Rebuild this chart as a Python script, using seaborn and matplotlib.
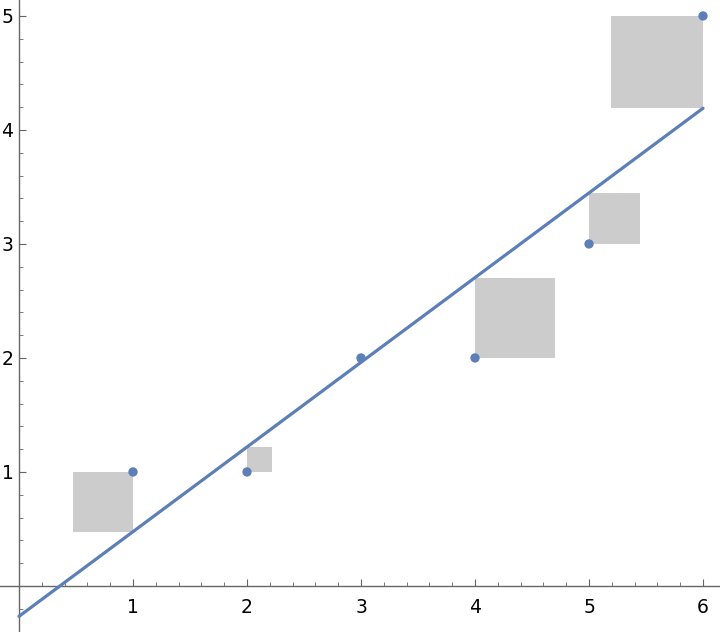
import numpy as np
import pandas as pd
import matplotlib
matplotlib.use("Agg")
import matplotlib.pyplot as plt
import seaborn as sns
from matplotlib.patches import Rectangle
from matplotlib.ticker import MultipleLocator

# data points
x_vals = [1, 2, 3, 4, 5, 6]
y_vals = [1, 1, 2, 2, 3, 5]
x_ticks = [1, 2, 3, 4, 5, 6]
y_ticks = [1, 2, 3, 4, 5]

BLUE = "#5b7fb6"
GRAY = "#cccccc"
AXIS = "#666666"

sns.set_style("white")
plt.rcParams['font.family'] = ['DejaVu Sans']

df = pd.DataFrame({"x": x_vals, "y": y_vals})

# least squares fit
slope, intercept = np.polyfit(df["x"], df["y"], 1)
df["fit"] = slope * df["x"] + intercept
df["res"] = df["y"] - df["fit"]

fig = plt.figure(figsize=(7.2, 6.32), dpi=100)
ax = fig.add_axes([0, 0, 1, 1])

# squares of residuals
for _, r in df.iterrows():
    side = abs(r["res"])
    x0 = min(r["x"], r["x"] - r["res"])
    y0 = min(r["y"], r["fit"])
    ax.add_patch(Rectangle((x0, y0), side, side, facecolor=GRAY,
                           edgecolor="none", zorder=1))

line_df = pd.DataFrame({"x": [0, 6]})
line_df["y"] = slope * line_df["x"] + intercept
sns.lineplot(data=line_df, x="x", y="y", ax=ax, color=BLUE, linewidth=2.3, zorder=3)
sns.scatterplot(data=df, x="x", y="y", ax=ax, color=BLUE, s=45,
                edgecolor="none", zorder=4)

ax.set_xlim(-0.1667, 6.149)
ax.set_ylim(-0.404, 5.14)

for side in ["top", "right"]:
    ax.spines[side].set_visible(False)
for side in ["left", "bottom"]:
    ax.spines[side].set_position(("data", 0))
    ax.spines[side].set_color(AXIS)
    ax.spines[side].set_linewidth(1.0)

ax.set_xticks(x_ticks)
ax.set_yticks(y_ticks)
ax.xaxis.set_minor_locator(MultipleLocator(0.2))
ax.yaxis.set_minor_locator(MultipleLocator(0.2))
ax.tick_params(axis="both", which="both", bottom=True, left=True,
               top=False, right=False)
ax.tick_params(axis="both", which="major", direction="in", length=5,
               width=0.8, color=AXIS, labelsize=13.5, labelcolor="black")
ax.tick_params(axis="both", which="minor", direction="in", length=3,
               width=0.6, color=AXIS)
ax.tick_params(axis="x", which="major", pad=9)
ax.tick_params(axis="y", which="major", pad=4)
ax.set_xlabel("")
ax.set_ylabel("")

fig.savefig("out.png", dpi=100)
